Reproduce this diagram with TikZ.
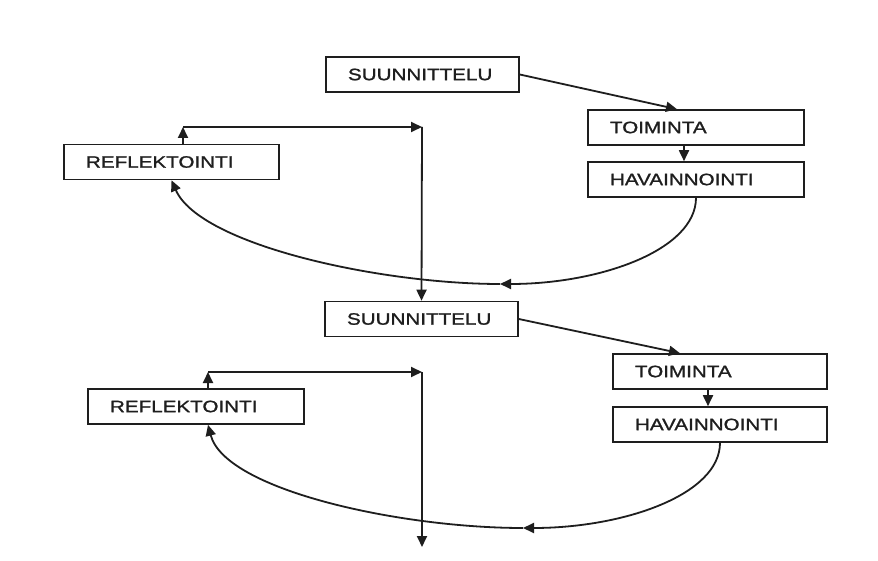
\documentclass[tikz,border=0pt]{standalone}
\usepackage{fontspec}
\newfontfamily\lblfont[FakeStretch=1.25,FakeBold=1.2]{Liberation Sans}
\usetikzlibrary{arrows.meta}
\definecolor{ink}{HTML}{1E1E1E}
\tikzset{
  boxnode/.style={draw=ink, line width=1.6pt, text=ink, inner xsep=22pt, inner ysep=0pt,
    minimum height=35pt, align=left, font=\lblfont\fontsize{16.5}{19}\selectfont},
  sbox/.style={boxnode, text width=149pt},
  wbox/.style={boxnode, text width=172pt},
  conn/.style={draw=ink, line width=1.8pt, -{Triangle[length=11pt,width=10pt]}}
}
\begin{document}
\begin{tikzpicture}[x=1pt,y=-1pt]
\useasboundingbox[fill=white] (0,0) rectangle (878,561);
% top cycle
\node[sbox] (S1) at (422.5,74.5) {SUUNNITTELU};
\node[wbox] (T1) at (696,127.5) {TOIMINTA};
\node[wbox] (H1) at (696,179.5) {HAVAINNOINTI};
\node[wbox, text width=171pt] (R1) at (171.5,162) {REFLEKTOINTI};
% bottom cycle
\node[sbox] (S2) at (421.5,319) {SUUNNITTELU};
\node[wbox, text width=170pt] (T2) at (720,371.5) {TOIMINTA};
\node[wbox, text width=170pt] (H2) at (720,424.5) {HAVAINNOINTI};
\node[wbox] (R2) at (196,406.5) {REFLEKTOINTI};
% free points
\coordinate (m1) at (500,284);
\coordinate (c1) at (183,127);
\coordinate (c2) at (422,127);
\coordinate (m2) at (523,528);
\coordinate (c3) at (208,372);
\coordinate (c4) at (422,372);
\coordinate (e2) at (422,547);
% top connectors
\draw[conn] (S1.east) -- ([xshift=-19pt]T1.north);
\draw[conn] ([xshift=-12pt]T1.south) -- ([xshift=-12pt]H1.north);
\draw[conn] (H1.south) .. controls (696,250) and (600,284) .. (m1);
\draw[conn] (m1) .. controls (380,284) and (200,245) .. (R1.south);
\draw[conn] ([xshift=11.5pt]R1.north) -- (c1);
\draw[conn] (c1) -- (c2);
\draw[conn] (c2) -- (S2.north);
% bottom connectors
\draw[conn] (S2.east) -- ([xshift=-40pt]T2.north);
\draw[conn] ([xshift=-12pt]T2.south) -- ([xshift=-12pt]H2.north);
\draw[conn] (H2.south) .. controls (720,495) and (623,528) .. (m2);
\draw[conn] (m2) .. controls (400,528) and (225,490) .. ([xshift=12pt]R2.south);
\draw[conn] ([xshift=12pt]R2.north) -- (c3);
\draw[conn] (c3) -- (c4);
\draw[conn] (c4) -- (e2);
\end{tikzpicture}
\end{document}
